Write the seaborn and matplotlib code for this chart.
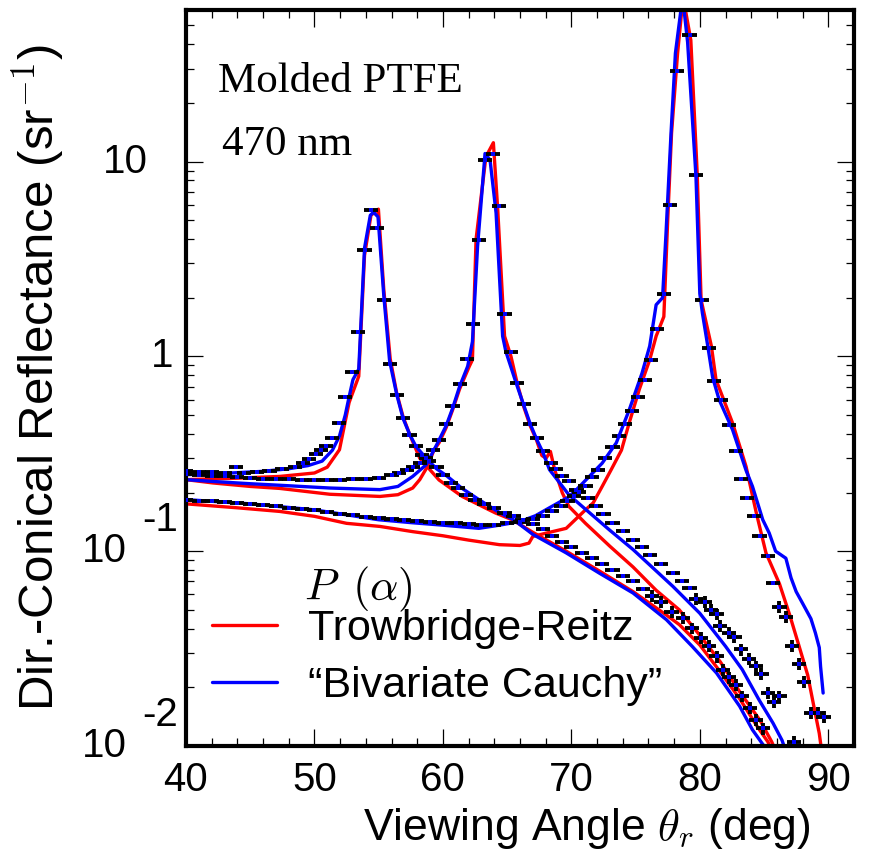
import numpy as np
import matplotlib
matplotlib.use("Agg")
import matplotlib.pyplot as plt
from matplotlib.lines import Line2D
from matplotlib.ticker import MultipleLocator, LogLocator, NullFormatter
import seaborn as sns

# measured points, three incidence angles (specular peaks near 54.5, 63.5, 78.7 deg)
x_a = [40.0, 41.0, 42.0, 43.0, 43.9, 44.5, 45.5, 46.5, 47.5, 48.5, 49.1, 49.6, 50.1, 50.5, 50.9, 51.4, 51.9, 52.4, 52.9, 53.4,
       53.9, 54.4, 54.9, 55.4, 55.9, 56.4, 56.9, 57.4, 57.9, 58.4, 58.9, 59.5, 60.0, 60.6, 61.2, 61.8, 62.5, 63.2, 64.0, 64.8,
       65.5, 66.2, 67.0, 67.8, 68.5, 69.3, 70.0, 70.8, 71.6, 72.4, 73.2, 74.0, 74.8, 75.6, 76.3, 77.0, 77.8, 78.7, 79.4, 80.1,
       80.7, 81.3, 81.8, 82.3, 82.8, 83.3, 83.9, 84.4, 84.9]
y_a = [0.258, 0.256, 0.254, 0.253, 0.272, 0.252, 0.254, 0.257, 0.263, 0.272, 0.285, 0.298, 0.315, 0.33, 0.345, 0.38, 0.456, 0.62, 0.834, 1.33,
       3.5, 5.62, 4.57, 1.95, 0.914, 0.63, 0.48, 0.396, 0.345, 0.31, 0.29, 0.27, 0.245, 0.225, 0.21, 0.194, 0.183, 0.174, 0.166, 0.157,
       0.151, 0.145, 0.138, 0.13, 0.12, 0.111, 0.105, 0.098, 0.092, 0.086, 0.08, 0.075, 0.07, 0.064, 0.059, 0.055, 0.049, 0.0453, 0.0402, 0.036,
       0.0326, 0.0288, 0.0246, 0.0225, 0.0206, 0.018, 0.0157, 0.0136, 0.0123]

x_b = [40, 41, 42, 43, 44, 45, 46, 47, 48, 49, 50, 51, 52, 53, 54, 55, 56, 56.6, 57.2, 57.7, 58.2, 58.7, 59.2, 59.7,
       60.25, 60.75, 61.3, 61.85, 62.35, 62.8, 63.3, 63.9, 64.35, 64.8, 65.3, 65.8, 66.3, 66.8, 67.3, 67.8, 68.4, 68.8, 69.3, 69.8,
       70.4, 71.3, 71.9, 72.5, 73.2, 74.0, 74.8, 75.5, 76.1, 77.0, 77.9, 78.6, 79.2, 79.7, 80.4, 80.9, 81.3, 81.6, 82.3, 82.7,
       83.2, 83.8, 84.4, 84.8, 85.3, 85.8, 86.2, 87.3]
y_b = [0.248, 0.246, 0.244, 0.242, 0.24, 0.238, 0.236, 0.235, 0.234, 0.233, 0.233, 0.233, 0.233, 0.234, 0.235, 0.237, 0.245,
       0.252, 0.262, 0.272, 0.285, 0.30, 0.33, 0.373,
       0.451, 0.554, 0.724, 0.97, 1.46, 3.98, 10.2, 11.0, 5.89, 1.65, 1.05, 0.73, 0.568, 0.451, 0.381, 0.325, 0.283, 0.265, 0.242, 0.228,
       0.205, 0.187, 0.17, 0.155, 0.14, 0.127, 0.114, 0.105, 0.096, 0.086, 0.077, 0.07, 0.065, 0.0568, 0.055, 0.05, 0.0474, 0.0414, 0.038, 0.0364,
       0.0313, 0.0279, 0.0256, 0.0234, 0.0187, 0.0169, 0.018, 0.0105]

x_c = [40, 41, 42, 43, 44, 45, 46, 47, 48, 49, 50, 51, 52, 53, 54, 55, 56, 57, 58, 59, 60, 61, 62, 63, 64, 65, 66, 67,
       67.8, 68.5, 69.2, 69.7, 70.2, 70.6, 71.1, 71.6, 72.1, 72.6, 73.2, 73.7, 74.2, 74.7, 75.2, 75.7, 76.2, 76.7, 77.2, 77.7,
       78.2, 79.2, 79.7, 80.2, 80.7, 81.1, 81.65, 82.3, 82.8, 83.2, 83.7, 84.2, 84.65, 85.3, 85.7, 86.2, 86.7, 87.2, 87.7, 88.1,
       88.65, 89.2, 89.7]
y_c = [0.184, 0.182, 0.18, 0.178, 0.176, 0.174, 0.172, 0.17, 0.167, 0.165, 0.162, 0.159, 0.156, 0.153, 0.15, 0.148, 0.146, 0.145,
       0.143, 0.141, 0.14, 0.139, 0.138, 0.137, 0.137, 0.139, 0.142, 0.147,
       0.152, 0.16, 0.17, 0.18, 0.191, 0.202, 0.217, 0.24, 0.262, 0.30, 0.343, 0.388, 0.451, 0.526, 0.618, 0.753, 0.962, 1.39, 2.08, 6.0,
       29.1, 44.5, 8.55, 1.94, 1.1, 0.744, 0.594, 0.442, 0.325, 0.235, 0.187, 0.151, 0.119, 0.095, 0.0686, 0.0516, 0.046, 0.0327, 0.0264, 0.0213,
       0.0148, 0.0148, 0.0141]

# Trowbridge-Reitz fits (red)
xa_tr = [40, 44, 47.3, 50, 51, 51.95, 52.7, 53.45, 53.9, 54.4, 54.98, 55.4, 55.9, 56.4, 56.9, 57.4, 58.2, 59.7, 61.5, 64.1,
         65.4, 67.0, 69.6, 72.2, 74.8, 77.4, 78.4, 80.0, 81.6, 83.1, 84.5, 85.3, 85.6]
ya_tr = [0.233, 0.237, 0.242, 0.252, 0.27, 0.332, 0.58, 0.79, 3.3, 5.3, 5.7, 2.2, 0.97, 0.65, 0.49, 0.40, 0.30, 0.232, 0.191, 0.157,
         0.145, 0.125, 0.10, 0.079, 0.062, 0.047, 0.042, 0.033, 0.024, 0.0175, 0.0125, 0.0105, 0.0095]
xb_tr = [40, 42.1, 45, 47.3, 51.2, 55.1, 56.5, 57.65, 58.2, 58.8, 59.3, 59.7, 60.25, 60.75, 61.3, 62.06, 62.3, 62.58, 63.35, 63.93,
         64.27, 64.8, 65.3, 65.8, 66.3, 66.8, 67.3, 67.7, 68.03, 68.37, 68.7, 69.3, 69.8, 71.1, 73.0, 74.8, 76.6, 78.4, 80.0, 81.6,
         83.1, 84.7, 85.6, 85.8]
yb_tr = [0.233, 0.224, 0.215, 0.21, 0.196, 0.191, 0.195, 0.211, 0.233, 0.272, 0.33, 0.36, 0.43, 0.53, 0.68, 0.89, 0.96, 3.98, 10.6, 12.5,
         5.67, 1.27, 1.0, 0.72, 0.55, 0.44, 0.37, 0.31, 0.30, 0.325, 0.262, 0.199, 0.17, 0.139, 0.106, 0.083, 0.063, 0.05, 0.037, 0.027,
         0.019, 0.0135, 0.0105, 0.0098]
xc_tr = [40, 44, 47.3, 50, 52.5, 55.1, 57.65, 60, 62, 64.4, 66.0, 66.7, 67.0, 68.3, 69.6, 71.1, 71.7, 72.4, 73.1, 73.9,
         74.5, 75.3, 76.1, 76.6, 77.2, 77.5, 77.8, 78.27, 78.7, 79.3, 79.8, 80.1, 80.9, 81.26, 82.55, 83.6, 84.4, 85.15, 86.2, 87.0,
         87.7, 88.4, 88.9, 89.3, 89.45]
yc_tr = [0.175, 0.167, 0.16, 0.151, 0.139, 0.134, 0.126, 0.12, 0.114, 0.108, 0.107, 0.11, 0.119, 0.125, 0.131, 0.163, 0.177, 0.215, 0.262, 0.33,
         0.455, 0.68, 0.96, 1.27, 1.6, 5.0, 14.0, 36.0, 70.0, 42.0, 8.6, 1.95, 1.13, 0.76, 0.455, 0.272, 0.157, 0.098, 0.068, 0.047,
         0.033, 0.0231, 0.0157, 0.0116, 0.0098]

# "Bivariate Cauchy" fits (blue)
xa_bc = [40, 43, 46, 48, 49.5, 50.6, 51.4, 51.95, 52.4, 52.7, 53.0, 53.45, 53.9, 54.35, 54.6, 54.95, 55.4, 55.85, 56.4, 56.9,
         57.4, 57.9, 58.7, 59.5, 60.25, 61.5, 62.8, 64.4, 65.5, 67.0, 69.6, 72.2, 74.8, 77.4, 79.4, 81.3, 83.1, 84.1, 84.9, 85.3]
ya_bc = [0.247, 0.251, 0.257, 0.265, 0.275, 0.29, 0.33, 0.39, 0.5, 0.62, 0.76, 0.86, 3.6, 5.3, 5.5, 5.2, 2.05, 0.95, 0.64, 0.48,
         0.40, 0.345, 0.30, 0.265, 0.245, 0.21, 0.184, 0.158, 0.145, 0.122, 0.098, 0.077, 0.061, 0.0445, 0.0325, 0.0237, 0.016, 0.0121, 0.0102, 0.0095]
xb_bc = [40, 42.1, 45, 47.3, 51.2, 55.1, 56.5, 57.65, 58.7, 59.5, 60.25, 60.75, 61.3, 61.93, 62.3, 62.7, 63.28, 63.67, 64.14, 64.65,
         64.9, 65.7, 66.3, 66.8, 67.3, 67.8, 68.3, 69.1, 69.8, 70.4, 73.0, 74.8, 77.9, 80.0, 82.0, 83.3, 84.6, 85.7, 86.4, 86.6]
yb_bc = [0.233, 0.228, 0.222, 0.218, 0.211, 0.207, 0.215, 0.242, 0.278, 0.35, 0.44, 0.54, 0.70, 0.89, 1.19, 3.67, 11.0, 10.2, 5.45, 1.27,
         1.06, 0.73, 0.56, 0.45, 0.375, 0.32, 0.262, 0.224, 0.195, 0.18, 0.128, 0.102, 0.066, 0.048, 0.0325, 0.0247, 0.0173, 0.0131, 0.0107, 0.0098]
xc_bc = [40, 45, 50, 55, 57.6, 60, 62.8, 64.4, 66.0, 67.2, 68.5, 69.8, 70.4, 71.4, 72.4, 73.5, 74.5, 75.5, 76.1, 76.6,
         77.1, 77.37, 77.76, 78.1, 78.66, 79.05, 79.7, 80.0, 80.2, 80.6, 81.0, 81.5, 82.55, 83.6, 84.1, 84.9, 85.4, 85.9, 86.7, 87.1,
         87.5, 88.0, 88.65, 89.0, 89.3, 89.4, 89.6]
yc_bc = [0.184, 0.175, 0.163, 0.145, 0.14, 0.136, 0.131, 0.136, 0.142, 0.152, 0.17, 0.19, 0.207, 0.242, 0.283, 0.36, 0.53, 0.82, 1.13, 1.84,
         2.0, 4.3, 14.0, 36.0, 70.0, 41.0, 8.4, 2.1, 1.67, 1.15, 0.78, 0.6, 0.42, 0.26, 0.215, 0.145, 0.124, 0.1, 0.092, 0.073,
         0.062, 0.054, 0.045, 0.038, 0.032, 0.0256, 0.0187]

sns.set_style("ticks")
plt.rcParams['font.family'] = ['Liberation Sans', 'DejaVu Sans']
plt.rcParams['mathtext.fontset'] = 'cm'
plt.rcParams['text.color'] = 'black'
plt.rcParams['axes.labelcolor'] = 'black'
plt.rcParams['xtick.color'] = 'black'
plt.rcParams['ytick.color'] = 'black'

fig = plt.figure(figsize=(8.69, 8.55), dpi=100)
ax = fig.add_axes([0.214, 0.1275, 0.7687, 0.8608])

for xs, ys in [(xa_tr, ya_tr), (xb_tr, yb_tr), (xc_tr, yc_tr)]:
    sns.lineplot(x=xs, y=ys, color='#ff0000', lw=2.4, ax=ax, legend=False, zorder=2)
for xs, ys in [(xa_bc, ya_bc), (xb_bc, yb_bc), (xc_bc, yc_bc)]:
    sns.lineplot(x=xs, y=ys, color='#0000ff', lw=2.4, ax=ax, legend=False, zorder=2)

for xs, ys in [(x_a, y_a), (x_b, y_b), (x_c, y_c)]:
    ys = np.array(ys)
    err = ys * np.where(ys < 0.06, 0.07, 0.012)
    ax.errorbar(xs, ys, xerr=0.55, yerr=err, fmt='none', ecolor='black', elinewidth=2.8, capsize=0, zorder=3)
    sns.scatterplot(x=xs, y=ys, marker='s', s=5, color='#0000ff', linewidth=0, ax=ax, zorder=4)

ax.set_yscale('log')
ax.set_xlim(40, 92)
ax.set_ylim(0.01, 60)

ax.xaxis.set_major_locator(MultipleLocator(10))
ax.xaxis.set_minor_locator(MultipleLocator(2))
ax.yaxis.set_major_locator(LogLocator(base=10))
ax.yaxis.set_minor_locator(LogLocator(base=10, subs=np.arange(2, 10)))
ax.yaxis.set_major_formatter(NullFormatter())
ax.yaxis.set_minor_formatter(NullFormatter())

ax.tick_params(which='both', direction='in', top=True, right=True, width=0.9, color='black', labelcolor='black')
ax.tick_params(which='major', length=12)
ax.tick_params(which='minor', length=6)
ax.tick_params(axis='x', labelsize=29, pad=11)
for s in ax.spines.values():
    s.set_linewidth(3)
    s.set_color('black')

# y tick labels in the "10" + raised exponent style of the original
ytr = ax.get_yaxis_transform()
ax.text(-0.057, 10, '10', transform=ytr, ha='right', va='center', fontsize=29)
ax.text(-0.019, 1, '1', transform=ytr, ha='right', va='center', fontsize=29)
for v, e in [(0.1, '-1'), (0.01, '-2')]:
    ax.text(-0.088, v, '10', transform=ytr, ha='right', va='center', fontsize=29, clip_on=False)
    ax.text(-0.066, v * 1.45, e, transform=ytr, ha='left', va='center', fontsize=29, clip_on=False)

ax.set_xlabel(r'Viewing Angle $\theta_r$ (deg)', fontsize=32)
ax.xaxis.set_label_coords(0.6, -0.082)
ax.set_ylabel(r'Dir.-Conical Reflectance (sr$^{-1}$)', fontsize=35.5)
ax.yaxis.set_label_coords(-0.178, 0.501)

ax.text(0.048, 0.889, 'Molded PTFE', transform=ax.transAxes, fontsize=31,
        family=['Liberation Serif', 'DejaVu Serif'], va='baseline')
ax.text(0.054, 0.803, '470 nm', transform=ax.transAxes, fontsize=31,
        family=['Liberation Serif', 'DejaVu Serif'], va='baseline')

ax.text(0.176, 0.198, r'$P\ \,(\alpha)$', transform=ax.transAxes, fontsize=32, va='baseline')
handles = [Line2D([], [], color='#ff0000', lw=2.4), Line2D([], [], color='#0000ff', lw=2.4)]
ax.legend(handles, ['Trowbridge-Reitz', '\u201cBivariate Cauchy\u201d'], loc='center left',
          bbox_to_anchor=(0.039, 0.12), frameon=False, fontsize=31, handlelength=1.5,
          handletextpad=0.72, labelspacing=0.41, borderpad=0, borderaxespad=0)

fig.savefig('out.png', dpi=100)
